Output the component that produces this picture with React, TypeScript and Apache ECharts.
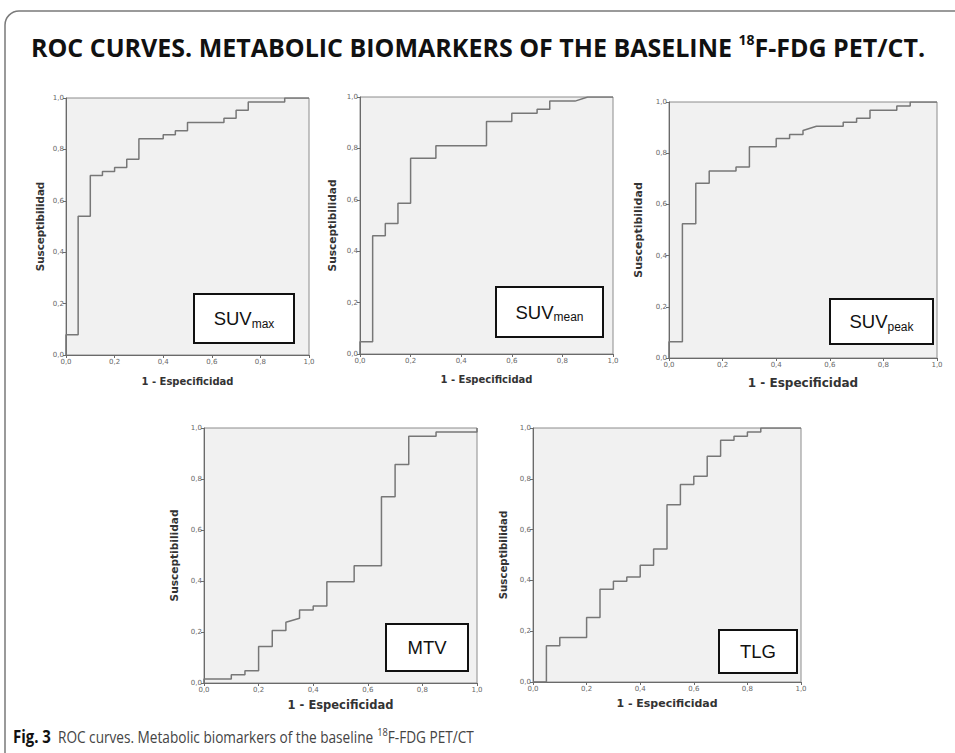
import React, { useEffect, useRef } from "react";
import * as echarts from "echarts";

// ---- data: ROC curve vertices (1 - specificity, sensitivity) ----
const suvMaxFpr = [0, 0, 0.05, 0.05, 0.1, 0.1, 0.15, 0.15, 0.2, 0.2, 0.25, 0.25, 0.3, 0.3, 0.4, 0.4, 0.45, 0.45, 0.5, 0.5, 0.65, 0.65, 0.7, 0.7, 0.75, 0.75, 0.9, 0.9, 1];
const suvMaxTpr = [0, 0.079, 0.079, 0.54, 0.54, 0.698, 0.698, 0.714, 0.714, 0.73, 0.73, 0.762, 0.762, 0.841, 0.841, 0.857, 0.857, 0.873, 0.873, 0.905, 0.905, 0.921, 0.921, 0.952, 0.952, 0.984, 0.984, 1, 1];

const suvMeanFpr = [0, 0, 0.05, 0.05, 0.1, 0.1, 0.15, 0.15, 0.2, 0.2, 0.3, 0.3, 0.5, 0.5, 0.6, 0.6, 0.7, 0.7, 0.75, 0.75, 0.85, 0.9, 1];
const suvMeanTpr = [0, 0.048, 0.048, 0.46, 0.46, 0.508, 0.508, 0.587, 0.587, 0.762, 0.762, 0.81, 0.81, 0.905, 0.905, 0.937, 0.937, 0.952, 0.952, 0.984, 0.984, 1, 1];

const suvPeakFpr = [0, 0, 0.05, 0.05, 0.1, 0.1, 0.15, 0.15, 0.25, 0.25, 0.3, 0.3, 0.4, 0.4, 0.45, 0.45, 0.5, 0.5, 0.55, 0.65, 0.65, 0.7, 0.7, 0.75, 0.75, 0.85, 0.85, 0.9, 0.9, 1];
const suvPeakTpr = [0, 0.063, 0.063, 0.524, 0.524, 0.683, 0.683, 0.73, 0.73, 0.746, 0.746, 0.825, 0.825, 0.857, 0.857, 0.873, 0.873, 0.889, 0.905, 0.905, 0.921, 0.921, 0.937, 0.937, 0.968, 0.968, 0.984, 0.984, 1, 1];

const mtvFpr = [0, 0, 0.1, 0.1, 0.15, 0.15, 0.2, 0.2, 0.25, 0.25, 0.3, 0.3, 0.35, 0.35, 0.4, 0.4, 0.45, 0.45, 0.55, 0.55, 0.65, 0.65, 0.7, 0.7, 0.75, 0.75, 0.85, 0.85, 1, 1];
const mtvTpr = [0, 0.016, 0.016, 0.032, 0.032, 0.048, 0.048, 0.143, 0.143, 0.206, 0.206, 0.238, 0.254, 0.286, 0.286, 0.302, 0.302, 0.397, 0.397, 0.46, 0.46, 0.73, 0.73, 0.857, 0.857, 0.968, 0.968, 0.984, 0.984, 1];

const tlgFpr = [0, 0.05, 0.05, 0.1, 0.1, 0.2, 0.2, 0.25, 0.25, 0.3, 0.3, 0.35, 0.35, 0.4, 0.4, 0.45, 0.45, 0.5, 0.5, 0.55, 0.55, 0.6, 0.6, 0.65, 0.65, 0.7, 0.7, 0.75, 0.75, 0.8, 0.8, 0.85, 0.85, 1];
const tlgTpr = [0, 0, 0.143, 0.143, 0.175, 0.175, 0.254, 0.254, 0.365, 0.365, 0.397, 0.397, 0.413, 0.413, 0.46, 0.46, 0.524, 0.524, 0.698, 0.698, 0.778, 0.778, 0.81, 0.81, 0.889, 0.889, 0.952, 0.952, 0.968, 0.968, 0.984, 0.984, 1, 1];

const panelMain = ["SUV", "SUV", "SUV", "MTV", "TLG"];
const panelSub = ["max", "mean", "peak", "", ""];
const xAxisName = "1 - Especificidad";
const yAxisName = "Susceptibilidad";
const titleMain = "ROC CURVES. METABOLIC BIOMARKERS OF THE BASELINE ";
const titleSup = "18";
const titleEnd = "F-FDG PET/CT.";
const captionBold = "Fig. 3";
const captionMain = "  ROC curves. Metabolic biomarkers of the baseline ";
const captionEnd = "F-FDG PET/CT";

// ---- layout ----
const grids = [
  { left: 66, top: 98, width: 243, height: 257 },
  { left: 360, top: 97, width: 253, height: 257 },
  { left: 669, top: 102, width: 268, height: 256 },
  { left: 204, top: 428, width: 273, height: 255 },
  { left: 533, top: 428, width: 268, height: 254 },
];
const xNameSize = [10, 10, 12, 11.5, 11];
const yNameSize = [10.3, 10.6, 11, 10.6, 10.2];
const xNameGap = [21, 20, 19, 16, 16];
const yNameGap = [21, 23, 25, 25, 25];
const boxes = [
  { x: 194, y: 294, w: 100, h: 49 },
  { x: 496, y: 287, w: 107, h: 50 },
  { x: 830, y: 299, w: 103, h: 45 },
  { x: 386, y: 624, w: 82, h: 47 },
  { x: 719, y: 630, w: 78, h: 43 },
];

const curves = [
  [suvMaxFpr, suvMaxTpr],
  [suvMeanFpr, suvMeanTpr],
  [suvPeakFpr, suvPeakTpr],
  [mtvFpr, mtvTpr],
  [tlgFpr, tlgTpr],
];

const fmt = (v: number) => v.toFixed(1).replace(".", ",");

export default function App() {
  const ref = useRef<HTMLDivElement>(null);
  useEffect(() => {
    if (!ref.current) return;
    const chart = echarts.init(ref.current, undefined, { renderer: "svg" });
    const axisFont = "DejaVu Sans";
    const option: any = {
      animation: false,
      backgroundColor: "#ffffff",
      grid: grids.map((g) => ({
        ...g,
        show: true,
        backgroundColor: "#f1f1f1",
        borderColor: "#8c8c8c",
        borderWidth: 1,
        containLabel: false,
      })),
      xAxis: grids.map((_, i) => ({
        type: "value",
        gridIndex: i,
        min: 0,
        max: 1,
        interval: 0.2,
        name: xAxisName,
        nameLocation: "middle",
        nameGap: xNameGap[i],
        nameTextStyle: { fontFamily: axisFont, fontWeight: "bold", fontSize: xNameSize[i], color: "#333" },
        axisLine: { show: true, lineStyle: { color: "#6a6a6a", width: 1 } },
        axisTick: { show: true, length: 3, lineStyle: { color: "#6a6a6a" } },
        axisLabel: { fontFamily: axisFont, fontSize: 7, color: "#666", margin: 3, formatter: fmt },
        splitLine: { show: false },
      })),
      yAxis: grids.map((_, i) => ({
        type: "value",
        gridIndex: i,
        min: 0,
        max: 1,
        interval: 0.2,
        name: yAxisName,
        nameLocation: "middle",
        nameGap: yNameGap[i],
        nameRotate: 90,
        nameTextStyle: { fontFamily: axisFont, fontWeight: "bold", fontSize: yNameSize[i], color: "#333" },
        axisLine: { show: true, lineStyle: { color: "#6a6a6a", width: 1 } },
        axisTick: { show: true, length: 3, lineStyle: { color: "#6a6a6a" } },
        axisLabel: { fontFamily: axisFont, fontSize: 7, color: "#666", margin: 2, formatter: fmt },
        splitLine: { show: false },
      })),
      series: curves.map(([f, t], i) => ({
        type: "line",
        xAxisIndex: i,
        yAxisIndex: i,
        showSymbol: false,
        symbol: "none",
        lineStyle: { color: "#777777", width: 1.5 },
        data: f.map((x, k) => [x, t[k]]),
        z: 3,
      })),
      graphic: [
        {
          type: "rect",
          shape: { x: 5, y: 11, width: 990, height: 790, r: 14 },
          style: { fill: "none", stroke: "#7a7a7a", lineWidth: 1.5 },
          silent: true,
          z: 0,
        },
        {
          type: "text",
          x: 478,
          y: 47,
          z: 100,
          style: {
            text: `{t|${titleMain}}{s|${titleSup}}{t|${titleEnd}}`,
            align: "center",
            textAlign: "center",
            verticalAlign: "middle",
            textVerticalAlign: "middle",
            rich: {
              t: { fontFamily: "Open Sans", fontWeight: "bold", fontSize: 25, fill: "#111", lineHeight: 30, verticalAlign: "middle" },
              s: { fontFamily: "Open Sans", fontWeight: "bold", fontSize: 14, fill: "#111", lineHeight: 18, verticalAlign: "top" },
            },
          },
        },
        {
          type: "text",
          x: 13,
          y: 737,
          scaleX: 0.88,
          z: 100,
          style: {
            text: `{b|${captionBold}}{n|${captionMain}}{s|18}{n|${captionEnd}}`,
            align: "left",
            textAlign: "left",
            verticalAlign: "middle",
            textVerticalAlign: "middle",
            rich: {
              b: { fontFamily: "Open Sans", fontWeight: "bold", fontSize: 17, fill: "#111", lineHeight: 22, verticalAlign: "middle" },
              n: { fontFamily: "Open Sans", fontSize: 15.5, fill: "#444", lineHeight: 22, verticalAlign: "middle" },
              s: { fontFamily: "Open Sans", fontSize: 10.5, fill: "#444", lineHeight: 14, verticalAlign: "top" },
            },
          },
        },
        ...boxes.map((b) => ({
          type: "rect",
          z: 100,
          shape: { x: b.x, y: b.y, width: b.w, height: b.h },
          style: { fill: "#ffffff", stroke: "#111", lineWidth: 2 },
        })),
        ...boxes.map((b, i) => ({
          type: "text",
          z: 101,
          x: b.x + b.w / 2,
          y: b.y + b.h / 2,
          style: {
            text: panelSub[i] ? `{m|${panelMain[i]}}{u|${panelSub[i]}}` : `{m|${panelMain[i]}}`,
            align: "center",
            textAlign: "center",
            verticalAlign: "middle",
            textVerticalAlign: "middle",
            rich: {
              m: { fontFamily: "Liberation Sans", fontSize: 18.5, fill: "#111", lineHeight: 22, verticalAlign: "middle" },
              u: { fontFamily: "Liberation Sans", fontSize: 12, fill: "#111", lineHeight: 14, verticalAlign: "bottom" },
            },
          },
        })),
      ],
    };
    chart.setOption(option);
    return () => chart.dispose();
  }, []);
  return (
    <div
      ref={ref}
      style={{ position: "fixed", left: 0, top: 0, width: 955, height: 753 }}
    />
  );
}
